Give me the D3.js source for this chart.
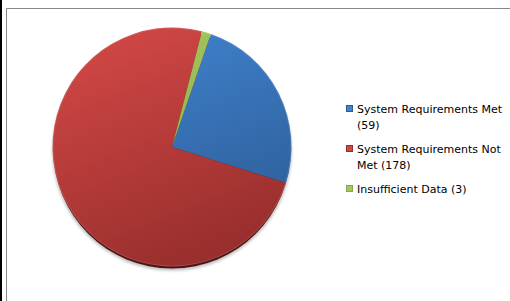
<!DOCTYPE html>
<html>
<head>
<meta charset="utf-8">
<script src="https://cdn.jsdelivr.net/npm/d3@7"></script>
<style>
  body { margin: 0; background: #fff; }
  svg { display: block; }
</style>
</head>
<body>
<div id="chart"></div>
<script>
// data
const categories = ["System Requirements Met", "System Requirements Not Met", "Insufficient Data"];
const counts = [59, 178, 3];
const colors = [
    { top: "#4083d0", bottom: "#2c5a93" },
    { top: "#d04745", bottom: "#952d2c" },
    { top: "#a3c65e", bottom: "#86a847" }
];

const WIDTH = 510, HEIGHT = 301;
const CX = 172, CY = 147, R = 119.5;
const FIRST_ANGLE = 19 * Math.PI / 180;

const svg = d3.select("#chart").append("svg")
    .attr("width", WIDTH)
    .attr("height", HEIGHT);

const defs = svg.append("defs");

// gradients in the pie group's local coords
colors.forEach((c, i) => {
    const g = defs.append("linearGradient")
        .attr("id", "grad" + i)
        .attr("gradientUnits", "userSpaceOnUse")
        .attr("x1", -R * 0.4).attr("y1", -R)
        .attr("x2", R * 0.4).attr("y2", R);
    g.append("stop").attr("offset", "0%").attr("stop-color", c.top);
    g.append("stop").attr("offset", "100%").attr("stop-color", c.bottom);
});

defs.append("filter").attr("id", "blur")
    .append("feGaussianBlur").attr("stdDeviation", 1.5);

// frame
svg.append("rect").attr("x", 0).attr("y", 0).attr("width", 2).attr("height", HEIGHT).attr("fill", "#000");
svg.append("path")
    .attr("d", `M6.5,${HEIGHT} V8.5 H${WIDTH}`)
    .attr("fill", "none")
    .attr("stroke", "#888")
    .attr("stroke-width", 1);

const pieG = svg.append("g").attr("transform", `translate(${CX},${CY})`);

// dark rim / shadow under the pie
pieG.append("circle")
    .attr("cx", 0).attr("cy", 4).attr("r", R)
    .attr("fill", "#777")
    .attr("opacity", 0.5)
    .attr("filter", "url(#blur)");
pieG.append("circle")
    .attr("cx", 0).attr("cy", 3).attr("r", R - 1)
    .attr("fill", "#4a1414");

const pie = d3.pie()
    .sort(null)
    .startAngle(FIRST_ANGLE)
    .endAngle(FIRST_ANGLE + 2 * Math.PI)
    .value(d => d);

const arc = d3.arc().innerRadius(0).outerRadius(R);

pieG.selectAll(".slice")
    .data(pie(counts))
    .join("path")
    .attr("class", "slice")
    .attr("d", arc)
    .attr("fill", (d, i) => `url(#grad${i})`);

// soft highlight on the edge
pieG.append("circle")
    .attr("r", R - 0.5)
    .attr("fill", "none")
    .attr("stroke", "#fff")
    .attr("stroke-opacity", 0.12)
    .attr("stroke-width", 1);

// legend
const legend = svg.append("g").attr("transform", "translate(346,0)");
const legendY = [109, 149, 189];
const WRAP = 150;

categories.forEach((cat, i) => {
    const g = legend.append("g").attr("transform", `translate(0,${legendY[i]})`);
    g.append("rect")
        .attr("x", 0.5).attr("y", -3.5)
        .attr("width", 6).attr("height", 6)
        .attr("fill", colors[i].top)
        .attr("stroke", colors[i].bottom)
        .attr("stroke-width", 1);

    const text = g.append("text")
        .attr("x", 11)
        .attr("y", 4)
        .attr("font-family", "DejaVu Sans, Verdana, sans-serif")
        .attr("font-size", "11px")
        .attr("fill", "#000");

    // wrap words like the original legend
    const words = `${cat} (${counts[i]})`.split(" ");
    let line = [];
    let tspan = text.append("tspan").attr("x", 11).attr("dy", 0);
    words.forEach(w => {
        line.push(w);
        tspan.text(line.join(" "));
        if (tspan.node().getComputedTextLength() > WRAP && line.length > 1) {
            line.pop();
            tspan.text(line.join(" "));
            line = [w];
            tspan = text.append("tspan").attr("x", 11).attr("dy", 15.5).text(w);
        }
    });
});
</script>
</body>
</html>
